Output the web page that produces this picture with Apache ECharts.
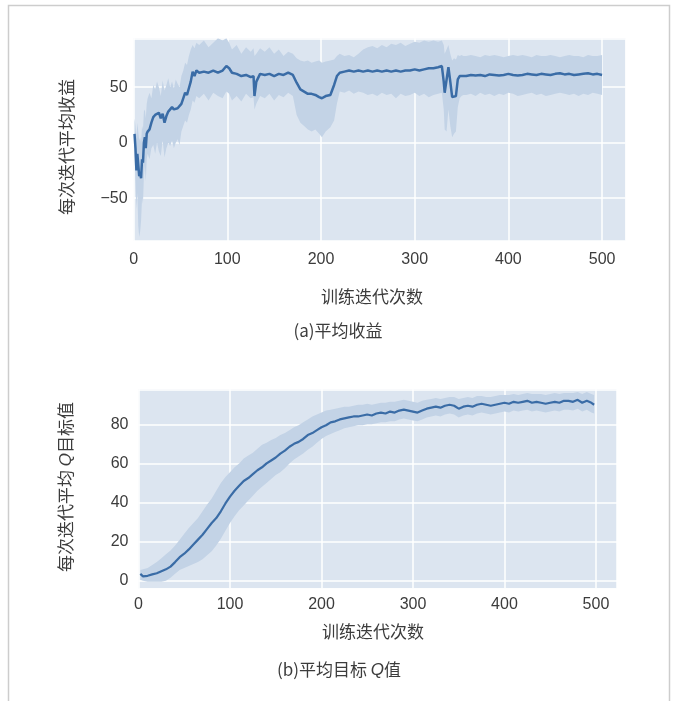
<!DOCTYPE html>
<html>
<head>
<meta charset="utf-8">
<script src="https://cdn.jsdelivr.net/npm/echarts@6/dist/echarts.min.js"></script>
<style>
html,body{margin:0;padding:0;background:#fff;}
#chart{width:676px;height:701px;}
</style>
</head>
<body>
<div id="chart"></div>
<script>
// ---------- Chart (a): average return per iteration ----------
const rewardX = [1,2,3,4,5,6,7,8,9,10,11,12,13,14,15,
  17,19,21,23,25,27,29,31,33,35,37,39,41,43,45,47,49,
  51,53,55,57,59,61,63,65,67,
  70,75,80,85,90,95,99,102,105,110,115,120,125,128,
  129,131,135,140,145,150,155,160,165,170,
  174,178,182,186,190,194,198,201,205,210,214,217,
  220,225,230,235,240,245,250,255,260,265,270,275,280,285,290,295,300,305,310,315,320,325,329,
  331,332,334,336,338,340,342,344,346,348,350,352,
  355,360,365,370,375,380,385,390,395,400,405,410,415,420,425,430,435,440,445,450,455,460,465,470,475,480,485,490,495,500];
const rewardMean = [8,-5,-25,-10,-20,-30,-28,-32,-15,-18,0,5,-5,8,10,
  12,18,23,25,24,27,22,26,18,24,28,27,32,30,29,31,30,
  35,40,45,43,49,55,64,60,65,
  63,64,63,65,63,65,69,67,63,62,60,61,59,60,
  42,55,62,61,62,60,62,61,63,61,
  54,48,46,44,44,43,41,40,42,43,52,60,
  63,64,65,64,65,64,65,64,65,64,65,64,65,64,65,65,66,65,66,67,67,68,69,
  55,45,44,68,55,41,40,42,57,60,59,60,
  60,61,60.5,61,60,61.5,61,60.5,61,62,61,60.5,61,62,61.5,61,62,61.5,61,62,62.5,61.5,62,61,61.5,62,62.5,61.5,62,61];
const rewardLow = [-10,-35,-60,-45,-75,-85,-80,-70,-50,-55,-30,-20,-35,-15,-10,
  -15,-5,-2,-10,0,-8,-12,2,-13,-5,0,-3,2,-5,0,3,-2,
  10,15,20,18,25,30,38,36,42,
  40,44,38,45,42,40,46,44,38,42,37,44,40,41,
  30,35,42,40,44,38,43,41,45,42,
  25,18,15,12,10,12,8,5,10,14,20,35,
  46,45,47,44,46,45,43,44,42,45,43,44,40,44,42,43,45,42,44,41,43,44,45,
  30,12,10,30,15,5,8,10,32,40,42,43,
  43,44,42,45,43,44,42,44,43,45,44,42,43,44,45,43,44,42,43,44,45,44,43,44,42,44,43,45,44,43];
const rewardHigh = [22,15,5,18,10,2,5,0,15,12,28,30,22,35,40,
  45,40,52,48,55,50,42,56,47,52,58,50,55,49,57,53,50,
  60,65,72,70,78,84,88,85,90,
  88,92,86,90,94,92,94,90,84,88,80,86,82,85,
  78,80,85,82,86,80,84,78,82,80,
  76,74,73,74,72,73,74,72,73,74,75,78,
  80,78,79,77,80,84,86,87,85,88,86,89,88,90,87,89,91,90,92,91,92,91,92,
  88,80,84,88,80,74,76,75,79,78,79,78,
  78,79,78,77,79,78,79,78,77,78,79,78,79,78,77,79,78,78,79,78,77,78,79,78,78,77,79,78,78,79];

// ---------- Chart (b): average target Q value ----------
const qX = [2,5,10,15,20,25,30,35,40,45,50,55,60,65,70,75,80,85,90,95,
  100,105,110,115,120,125,130,135,140,145,150,155,160,165,170,175,180,185,190,195,
  200,205,210,215,220,225,230,235,240,245,250,255,260,265,270,275,280,285,290,295,
  300,305,310,315,320,325,330,335,340,345,350,355,360,365,370,375,380,385,390,395,
  400,405,410,415,420,425,430,435,440,445,450,455,460,465,470,475,480,485,490,495,498];
const qMean = [3.5,2.2,2.5,3.2,3.8,4.8,5.8,7.2,9.5,12,13.8,16,18.5,21,23.5,26.5,29.5,32,35.5,39.5,
  43,46,48.5,51,52.5,54.5,56.5,58,60,61.5,63,65,66.5,68.5,70,71,72.5,74.5,75.5,77,
  78.5,79.5,81,81.5,82.5,83,83.5,84,84,84.5,85,84.5,85.5,86,85.5,86.5,86,87,87.5,87,
  86.5,86,87,88,88.5,89,88.5,89.5,90,89.5,88,89,89.5,89,90,90.5,90,89.5,90,90.5,
  91,90.5,91.5,91,91.5,92,91,91.5,91,90.5,91,91.5,91,92,92,91.5,92.5,91,92,91,90];
const qLow = [0.5,0,-0.5,-0.5,-0.5,-0.5,0,1.5,3.5,5.5,6.5,7.5,8.5,9.5,11,13,15,18,21.5,25.5,
  29.5,33,36,38.5,41,43.5,46,48,50,52,54,55.5,57.5,60,62,63.5,65,67,68.5,70.5,
  72.5,74,75,76,77,78,78.5,79,79.5,79.5,80,80,80.5,81,81,81.5,81.5,82.5,83,82.5,
  82,81.5,82.5,83.5,84,84.5,84,85,85.5,85,83.5,84.5,85,84.5,85.5,86,85.5,85,85.5,86,
  86.5,86,87,86.5,87,87.5,86.5,87,86.5,86,86.5,87,86.5,87.5,87.5,87,88,86.5,87.5,86,85.5];
const qHigh = [5.5,5.8,6.5,8,9.5,11.5,13.5,15.5,18,21,24,27,29.5,32,35.5,39,42,46,50,53,
  55.5,58,60,62.5,64,65.5,67.5,69.5,70.5,72,73,74.5,75.5,77,78.5,79.5,81,82.5,84,85,
  86,87,87.5,88,88.5,89,89,89.5,90,90,90.5,90,90.5,91,91,91.5,91.5,92,92.5,92,
  91.5,91,92,92.5,93,93.5,93,93.5,94,94,93,93.5,94,93.5,94.5,94.5,94,94,94.5,95,
  95,95,95.5,95,95.5,96,95.5,95.5,95.5,95,95.5,96,95.5,96,96,96,96.5,95.5,96.5,95.5,95];

const xTicks = [0,100,200,300,400,500];
const rewardYTicks = [-50,0,50];
const qYTicks = [0,20,40,60,80];

const texts = {
  aYName: '每次迭代平均收益',
  xName: '训练迭代次数',
  aCaption: '(a)平均收益',
  bYNameA: '每次迭代平均 ',
  bYNameQ: 'Q',
  bYNameB: '目标值',
  bCapA: '(b)平均目标 ',
  bCapQ: 'Q',
  bCapB: '值'
};

const LINE = '#3a6ca6';
const BAND = '#c3d3e6';
const BG = '#dce5f0';
const TXT = '#3c3c3c';
const CJK = '"Noto Sans CJK SC", "Noto Sans", sans-serif';
const NUM = '"Liberation Sans", Arial, sans-serif';

function pairs(xs, ys){ return xs.map((x,i)=>[x, ys[i]]); }
function bandSeries(xs, lo, hi, idx){
  return {
    type:'custom', xAxisIndex: idx, yAxisIndex: idx, clip: true, silent: true, z: 1,
    data: [[xs[0], lo[0]]],
    encode: {x:0, y:1},
    renderItem: function(params, api){
      const pts = [];
      for (let i=0;i<xs.length;i++) pts.push(api.coord([xs[i], hi[i]]));
      for (let i=xs.length-1;i>=0;i--) pts.push(api.coord([xs[i], lo[i]]));
      return {type:'polygon', shape:{points: pts}, style:{fill: BAND}};
    }
  };
}
function fmtNum(v){ return v < 0 ? '\u2212' + Math.abs(v) : String(v); }
function xAxisCfg(idx, max, margin){
  return {
    type:'value', gridIndex: idx, min: 0, max: max, interval: 100,
    axisLine:{show:false}, axisTick:{show:false},
    splitLine:{show:true, lineStyle:{color:'#ffffff', width:1.5}},
    axisLabel:{show:true, margin: margin, color: TXT, fontSize: 16, fontFamily: NUM,
      showMaxLabel:false,
      formatter: v => xTicks.indexOf(v) >= 0 ? fmtNum(v) : ''}
  };
}
function yAxisCfg(idx, min, max, split, ticks, margin){
  return {
    type:'value', gridIndex: idx, min: min, max: max, splitNumber: split,
    axisLine:{show:false}, axisTick:{show:false},
    splitLine:{show:true, lineStyle:{color:'#ffffff', width:1.5}},
    axisLabel:{show:true, margin: margin, color: TXT, fontSize: 16, fontFamily: NUM,
      showMinLabel:false, showMaxLabel:false,
      formatter: v => ticks.indexOf(v) >= 0 ? fmtNum(v) : ''}
  };
}

const chart = echarts.init(document.getElementById('chart'), null, {renderer:'canvas'});
chart.setOption({
  animation: false,
  backgroundColor: '#ffffff',
  grid: [
    {left: 133.6, top: 38.3, width: 491.9, height: 202.7, show: true, backgroundColor: BG, borderWidth: 0},
    {left: 138.5, top: 389.3, width: 478.5, height: 199, show: true, backgroundColor: BG, borderWidth: 0}
  ],
  xAxis: [ xAxisCfg(0, 525, 11), xAxisCfg(1, 523, 8) ],
  yAxis: [ yAxisCfg(0, -88.5, 94, 4, rewardYTicks, 6), yAxisCfg(1, -3.9, 97.9, 5, qYTicks, 10) ],
  series: [
    bandSeries(rewardX, rewardLow, rewardHigh, 0),
    {type:'line', xAxisIndex:0, yAxisIndex:0, data: pairs(rewardX, rewardMean), showSymbol:false,
     lineStyle:{color: LINE, width: 2.5}, z: 3, silent: true},
    bandSeries(qX, qLow, qHigh, 1),
    {type:'line', xAxisIndex:1, yAxisIndex:1, data: pairs(qX, qMean), showSymbol:false,
     lineStyle:{color: LINE, width: 2.2}, z: 3, silent: true}
  ],
  graphic: [
    {type:'polyline', shape:{points:[[8.5,701],[8.5,5.5],[669.5,5.5],[669.5,701]]},
     style:{stroke:'#cdcdcd', lineWidth:1.5, fill:null}, silent:true},
    {type:'text', x: 67, y: 147, rotation: Math.PI/2,
     style:{text: texts.aYName, fill: TXT, font: '17px ' + CJK, align:'center', verticalAlign:'middle'}},
    {type:'text', x: 372, y: 297,
     style:{text: texts.xName, fill: TXT, font: '17px ' + CJK, align:'center', verticalAlign:'middle'}},
    {type:'text', x: 338, y: 331,
     style:{text: texts.aCaption, fill: TXT, font: '17px ' + CJK, align:'center', verticalAlign:'middle'}},
    {type:'text', x: 66, y: 487, rotation: Math.PI/2,
     style:{text: '{a|' + texts.bYNameA + '}{q|' + texts.bYNameQ + '}{a|' + texts.bYNameB + '}',
       align:'center', verticalAlign:'middle',
       rich:{a:{fill: TXT, fontSize: 17, fontFamily: CJK}, q:{fill: TXT, fontSize: 17, fontFamily: NUM, fontStyle:'italic'}}}},
    {type:'text', x: 373, y: 632,
     style:{text: texts.xName, fill: TXT, font: '17px ' + CJK, align:'center', verticalAlign:'middle'}},
    {type:'text', x: 339, y: 670,
     style:{text: '{a|' + texts.bCapA + '}{q|' + texts.bCapQ + '}{a|' + texts.bCapB + '}',
       align:'center', verticalAlign:'middle',
       rich:{a:{fill: TXT, fontSize: 17, fontFamily: CJK}, q:{fill: TXT, fontSize: 17, fontFamily: NUM, fontStyle:'italic'}}}}
  ]
});
</script>
</body>
</html>
